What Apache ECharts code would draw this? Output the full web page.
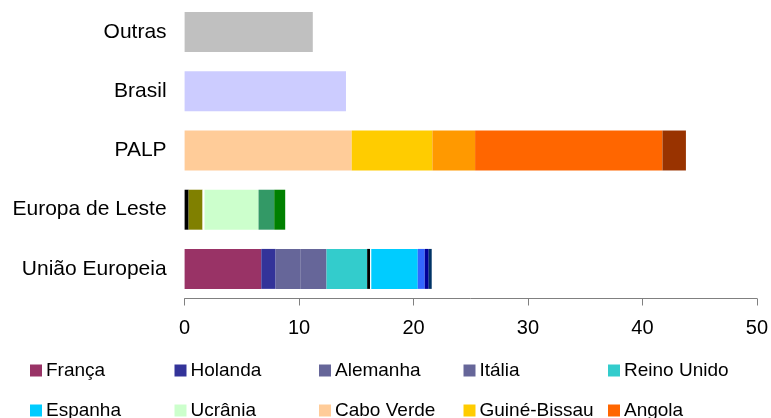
<!DOCTYPE html>
<html>
<head>
<meta charset="utf-8">
<script src="https://cdn.jsdelivr.net/npm/echarts@6/dist/echarts.min.js"></script>
<style>
  html, body { margin: 0; padding: 0; background: #fff; }
  #chart { width: 771px; height: 418px; }
</style>
</head>
<body>
<div id="chart"></div>
<script>
// Categories, listed bottom to top as they sit on the y axis
const categories = ['União Europeia', 'Europa de Leste', 'PALP', 'Brasil', 'Outras'];
const xTicks = [0, 10, 20, 30, 40, 50];

// Stacked segments (value per category, in category order above)
const franca      = [6.7, 0, 0, 0, 0];
const holanda     = [1.25, 0, 0, 0, 0];
const alemanha    = [2.2, 0, 0, 0, 0];
const italia      = [2.25, 0, 0, 0, 0];
const reinoUnido  = [3.55, 0, 0, 0, 0];
const outrosA     = [0.26, 0.35, 0, 0, 0];
const outrosB     = [0, 1.22, 0, 0, 0];
const outrosC     = [0.1, 0.17, 0, 0, 0];
const espanha     = [4.06, 0, 0, 0, 0];
const ucrania     = [0, 4.72, 0, 0, 0];
const outrosD     = [0.61, 0, 0, 0, 0];
const outrosE     = [0.35, 0, 0, 0, 0];
const outrosF     = [0.26, 0, 0, 0, 0];
const outrosG     = [0, 1.37, 0, 0, 0];
const outrosH     = [0, 0.96, 0, 0, 0];
const caboVerde   = [0, 0, 14.6, 0, 0];
const guineBissau = [0, 0, 7.05, 0, 0];
const outrosI     = [0, 0, 3.73, 0, 0];
const angola      = [0, 0, 16.37, 0, 0];
const outrosJ     = [0, 0, 2.05, 0, 0];
const brasil      = [0, 0, 0, 14.1, 0];
const outras      = [0, 0, 0, 0, 11.2];

// Legend entries, in reading order (two rows of five)
const legendNames = ['França', 'Holanda', 'Alemanha', 'Itália', 'Reino Unido',
                     'Espanha', 'Ucrânia', 'Cabo Verde', 'Guiné-Bissau', 'Angola'];

const stackDefs = [
  ['França', franca, '#993366'],
  ['Holanda', holanda, '#333399'],
  ['Alemanha', alemanha, '#666699'],
  ['Itália', italia, '#666699'],
  ['Reino Unido', reinoUnido, '#33CCCC'],
  ['Outros A', outrosA, '#000000'],
  ['Outros B', outrosB, '#808000'],
  ['Outros C', outrosC, '#FFFFFF'],
  ['Espanha', espanha, '#00CCFF'],
  ['Ucrânia', ucrania, '#CCFFCC'],
  ['Outros D', outrosD, '#3366FF'],
  ['Outros E', outrosE, '#000099'],
  ['Outros F', outrosF, '#003366'],
  ['Outros G', outrosG, '#339966'],
  ['Outros H', outrosH, '#008000'],
  ['Cabo Verde', caboVerde, '#FFCC99'],
  ['Guiné-Bissau', guineBissau, '#FFCC00'],
  ['Outros I', outrosI, '#FF9900'],
  ['Angola', angola, '#FF6600'],
  ['Outros J', outrosJ, '#993300'],
  ['Brasil', brasil, '#CCCCFF'],
  ['Outras', outras, '#C0C0C0']
];

const FONT = 'Liberation Sans, Arial, sans-serif';

// Alemanha and Itália share a colour; a same-colour outline on the
// non-empty segment hides the anti-aliasing seam where they meet.
const seamless = ['Itália'];

const series = stackDefs.map(([name, data, color]) => ({
  name: name,
  type: 'bar',
  stack: 'total',
  data: data.map(v => (v > 0 && seamless.includes(name))
    ? { value: v, itemStyle: { borderColor: color, borderWidth: 2 } }
    : v),
  barCategoryGap: '32.5%',
  itemStyle: { color: color },
  emphasis: { disabled: true },
  silent: true
}));

// One legend block per entry so the columns line up on a fixed grid
const colX = [30, 174.5, 319, 463.5, 608];
const rowY = [361, 401];
const legends = legendNames.map((name, i) => ({
  data: [name],
  left: colX[i % 5],
  top: rowY[Math.floor(i / 5)],
  padding: 0,
  itemWidth: 12,
  itemHeight: 12,
  itemGap: 0,
  icon: 'rect',
  selectedMode: false,
  textStyle: { fontFamily: FONT, fontSize: 19, color: '#000', padding: [0, 0, 0, -1] }
}));

const chart = echarts.init(document.getElementById('chart'), null, { renderer: 'canvas' });
chart.setOption({
  animation: false,
  backgroundColor: '#ffffff',
  grid: { left: 184.6, right: 11, top: 2.5, bottom: 119.5, containLabel: false },
  legend: legends,
  xAxis: {
    type: 'value',
    min: xTicks[0],
    max: xTicks[xTicks.length - 1],
    interval: xTicks[1] - xTicks[0],
    axisLine: { show: true, lineStyle: { color: '#808080', width: 1 } },
    axisTick: { show: true, length: 7, lineStyle: { color: '#808080' } },
    splitLine: { show: false },
    axisLabel: { fontFamily: FONT, fontSize: 20, color: '#000', margin: 20 }
  },
  yAxis: {
    type: 'category',
    data: categories,
    axisLine: { show: false },
    axisTick: { show: false },
    axisLabel: { fontFamily: FONT, fontSize: 21, color: '#000', margin: 18 }
  },
  series: series
});
</script>
</body>
</html>
